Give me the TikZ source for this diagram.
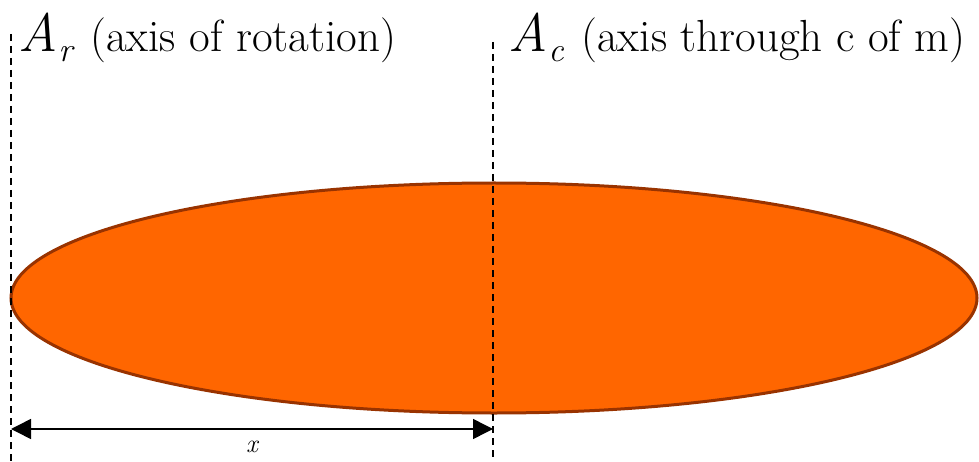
\documentclass[tikz,border=0pt]{standalone}
\usepackage{fontspec}
\usetikzlibrary{arrows.meta}
\definecolor{discfill}{HTML}{FF6600}
\definecolor{discedge}{HTML}{993300}
\newcommand{\axisname}[1]{{\fontsize{54}{60}\selectfont\itshape A}\kern1pt\raisebox{-0.22em}{\fontsize{34}{34}\selectfont\itshape #1}\kern4pt\relax}
\tikzset{
  axisline/.style={line width=1.2pt,dash pattern=on 7pt off 5pt},
  bigtext/.style={font=\fontsize{45}{54}\selectfont,anchor=base west,inner sep=0pt},
  dimarrow/.style={line width=1.5pt,{Triangle[length=20pt,width=20pt]}-{Triangle[length=20pt,width=20pt]}}
}
\begin{document}
\begin{tikzpicture}[x=1pt,y=-1pt]
\useasboundingbox (0,0) rectangle (979,462);
% the disc
\filldraw[fill=discfill,draw=discedge,line width=3pt] (494,298) ellipse [x radius=483,y radius=115];
% axes
\coordinate (rtop) at (11,34);
\coordinate (rbot) at (11,462);
\coordinate (ctop) at (493,42);
\coordinate (cbot) at (493,462);
\draw[axisline] (rtop) -- (rbot);
\draw[axisline] (ctop) -- (cbot);
\node[bigtext] (rlabel) at (18,52) {\axisname{r} (axis of rotation)};
\node[bigtext] (clabel) at (508,52) {\axisname{c} (axis through c of m)};
% distance
\coordinate (xa) at (11,429);
\coordinate (xb) at (493,429);
\draw[dimarrow] (xa) -- (xb) node[midway,below=8pt,font=\fontsize{26}{30}\selectfont\itshape] (xlabel) {x};
\end{tikzpicture}
\end{document}
